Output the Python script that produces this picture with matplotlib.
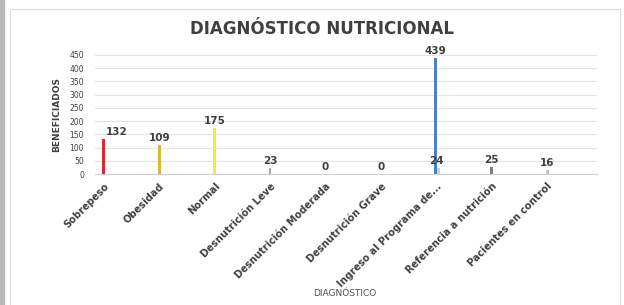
import numpy as np
import matplotlib
matplotlib.use("Agg")
import matplotlib.pyplot as plt
from matplotlib.patches import Rectangle

categorias = ["Sobrepeso", "Obesidad", "Normal", "Desnutrición Leve",
              "Desnutrición Moderada", "Desnutrición Grave",
              "Ingreso al Programa de...", "Referencia a nutrición",
              "Pacientes en control"]
beneficiados = [132, 109, 175, 23, 0, 0, 439, 25, 16]
# second small bar drawn next to the "Ingreso" one
ingreso_extra = 24
yticks = [0, 50, 100, 150, 200, 250, 300, 350, 400, 450]

colores = ["#e0262a", "#e2b52a", "#ecec3a", "#a8a8a8", "#a8a8a8",
           "#a8a8a8", "#4f7fc4", "#7f7f7f", "#c4c4c4"]

fig = plt.figure(figsize=(6.24, 3.05), dpi=100)
fig.patch.set_facecolor("white")
# outer frame like the excel chart area + grey strip on the left
fig.patches.append(Rectangle((0, 0), 4/624, 1, transform=fig.transFigure,
                             color="#b9b9b9", zorder=0))
fig.patches.append(Rectangle((10/624, -0.01), 610/624, 1 - 9/305 + 0.01,
                             transform=fig.transFigure, fill=False,
                             ec="#dcdcdc", lw=0.8, zorder=0))

ax = fig.add_axes([95/624, 1 - 174/305, 502/624, 119/305])
x = np.arange(len(categorias))
w = 0.05

for i, v in enumerate(beneficiados):
    xi = x[i] - 0.02 if i == 6 else x[i]
    ax.bar(xi, v, width=w, color=colores[i], zorder=3)
    if i == 6:
        ax.text(xi, v + 8, str(v), ha="center", va="bottom", fontsize=7.5,
                fontweight="bold", color="#404040", clip_on=False)
    else:
        ax.text(x[i] + (0.23 if i == 0 else 0), v + 8, str(v), ha="center",
                va="bottom", fontsize=7.5, fontweight="bold", color="#404040")

ax.bar(x[6] + 0.04, ingreso_extra, width=0.07, color="#a6dcf2", zorder=2)
ax.text(x[6], ingreso_extra + 8, str(ingreso_extra), ha="center",
        va="bottom", fontsize=7.5, fontweight="bold", color="#404040")

ax.set_xlim(-0.16, 8.9)
ax.set_ylim(0, 450)
ax.set_yticks(yticks)
ax.set_yticklabels([str(t) for t in yticks], fontsize=5.5, color="#404040")
ax.set_xticks(x)
ax.set_xticklabels(categorias, rotation=45, ha="right",
                   rotation_mode="anchor", fontsize=7.1, fontweight="bold",
                   color="#404040")
ax.tick_params(length=0, pad=5)
ax.tick_params(axis="y", pad=8)
ax.grid(axis="y", color="#e4e4e4", lw=0.8, zorder=0)
for s in ["top", "right", "left"]:
    ax.spines[s].set_visible(False)
ax.spines["bottom"].set_color("#d0d0d0")

ax.set_ylabel("BENEFICIADOS", fontsize=6.5, fontweight="bold", color="#404040",
              labelpad=6)
fig.text(345/624, 1 - 293/305, "DIAGNÓSTICO", ha="center", va="center",
         fontsize=6.5, color="#505050")
fig.text(322/624, 1 - 29/305, "DIAGNÓSTICO NUTRICIONAL", ha="center",
         va="center", fontsize=12, fontweight="bold", color="#404040")

fig.savefig("out.png", dpi=100)
